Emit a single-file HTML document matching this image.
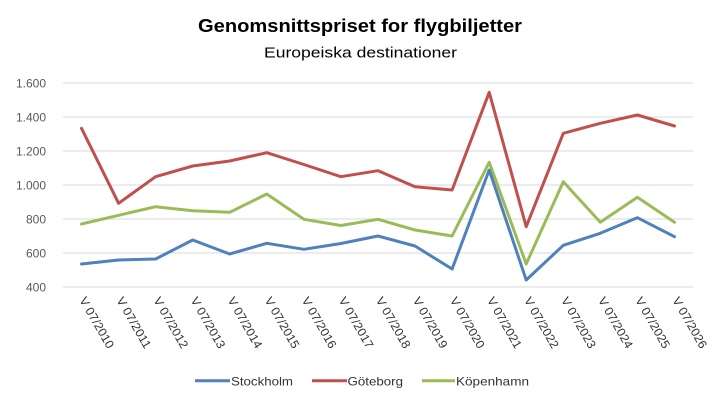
<!DOCTYPE html>
<html>
<head>
<meta charset="utf-8">
<style>
  html,body{margin:0;padding:0;background:#fff;}
  svg{display:block;}
  text{font-family:"Liberation Sans", sans-serif;}
</style>
</head>
<body>
<svg width="720" height="405" viewBox="0 0 720 405" xmlns="http://www.w3.org/2000/svg">
  <rect width="720" height="405" fill="#fff"/>
  <!-- Title -->
  <text x="360" y="32" text-anchor="middle" font-size="18" font-weight="bold" fill="#000" textLength="324" lengthAdjust="spacingAndGlyphs">Genomsnittspriset for flygbiljetter</text>
  <text x="360.5" y="57.3" text-anchor="middle" font-size="15" fill="#000" textLength="193" lengthAdjust="spacingAndGlyphs">Europeiska destinationer</text>

  <!-- Gridlines -->
  <g stroke="#D9D9D9" stroke-width="1">
    <line x1="63" y1="83" x2="693" y2="83"/>
    <line x1="63" y1="117" x2="693" y2="117"/>
    <line x1="63" y1="151" x2="693" y2="151"/>
    <line x1="63" y1="185" x2="693" y2="185"/>
    <line x1="63" y1="219" x2="693" y2="219"/>
    <line x1="63" y1="253" x2="693" y2="253"/>
    <line x1="63" y1="287" x2="693" y2="287"/>
  </g>

  <!-- Y labels -->
  <g font-size="12" fill="#595959" text-anchor="end">
    <text x="46" y="87.3">1.600</text>
    <text x="46" y="121.3">1.400</text>
    <text x="46" y="155.3">1.200</text>
    <text x="46" y="189.3">1.000</text>
    <text x="46" y="223.3">800</text>
    <text x="46" y="257.3">600</text>
    <text x="46" y="291.3">400</text>
  </g>

  <!-- Series -->
  <g fill="none" stroke-width="3" stroke-linejoin="round" stroke-linecap="round">
    <polyline stroke="#C0504D" points="81.5,128.3 118.6,203.3 155.6,176.7 192.7,166 229.7,161 266.8,152.7 303.9,164.5 340.9,176.7 378,170.7 415,186.7 452.1,190 489.2,92.3 526.2,226.7 563.3,133.3 600.3,123.3 637.4,115 674.5,126"/>
    <polyline stroke="#9BBB59" points="81.5,224 118.6,215.3 155.6,206.7 192.7,210.7 229.7,212.3 266.8,194 303.9,219.3 340.9,225.5 378,219.3 415,230 452.1,236 489.2,162.3 526.2,264 563.3,181.7 600.3,222.3 637.4,197.3 674.5,222.3"/>
    <polyline stroke="#4F81BD" points="81.5,264 118.6,260 155.6,259 192.7,240 229.7,254 266.8,243.3 303.9,249.3 340.9,243.5 378,236 415,246 452.1,269 489.2,170 526.2,280 563.3,245.3 600.3,233.3 637.4,217.7 674.5,236.7"/>
  </g>

  <!-- X labels -->
  <g font-size="12" fill="#333">
    <text transform="translate(79,300) rotate(60)" textLength="57" lengthAdjust="spacingAndGlyphs">V 07/2010</text>
    <text transform="translate(116.1,300) rotate(60)" textLength="57" lengthAdjust="spacingAndGlyphs">V 07/2011</text>
    <text transform="translate(153.1,300) rotate(60)" textLength="57" lengthAdjust="spacingAndGlyphs">V 07/2012</text>
    <text transform="translate(190.2,300) rotate(60)" textLength="57" lengthAdjust="spacingAndGlyphs">V 07/2013</text>
    <text transform="translate(227.2,300) rotate(60)" textLength="57" lengthAdjust="spacingAndGlyphs">V 07/2014</text>
    <text transform="translate(264.3,300) rotate(60)" textLength="57" lengthAdjust="spacingAndGlyphs">V 07/2015</text>
    <text transform="translate(301.4,300) rotate(60)" textLength="57" lengthAdjust="spacingAndGlyphs">V 07/2016</text>
    <text transform="translate(338.4,300) rotate(60)" textLength="57" lengthAdjust="spacingAndGlyphs">V 07/2017</text>
    <text transform="translate(375.5,300) rotate(60)" textLength="57" lengthAdjust="spacingAndGlyphs">V 07/2018</text>
    <text transform="translate(412.5,300) rotate(60)" textLength="57" lengthAdjust="spacingAndGlyphs">V 07/2019</text>
    <text transform="translate(449.6,300) rotate(60)" textLength="57" lengthAdjust="spacingAndGlyphs">V 07/2020</text>
    <text transform="translate(486.7,300) rotate(60)" textLength="57" lengthAdjust="spacingAndGlyphs">V 07/2021</text>
    <text transform="translate(523.7,300) rotate(60)" textLength="57" lengthAdjust="spacingAndGlyphs">V 07/2022</text>
    <text transform="translate(560.8,300) rotate(60)" textLength="57" lengthAdjust="spacingAndGlyphs">V 07/2023</text>
    <text transform="translate(597.8,300) rotate(60)" textLength="57" lengthAdjust="spacingAndGlyphs">V 07/2024</text>
    <text transform="translate(634.9,300) rotate(60)" textLength="57" lengthAdjust="spacingAndGlyphs">V 07/2025</text>
    <text transform="translate(672,300) rotate(60)" textLength="57" lengthAdjust="spacingAndGlyphs">V 07/2026</text>
  </g>

  <!-- Legend -->
  <g stroke-width="3">
    <line x1="195" y1="380.7" x2="230" y2="380.7" stroke="#4F81BD"/>
    <line x1="312" y1="380.7" x2="347" y2="380.7" stroke="#C0504D"/>
    <line x1="422" y1="380.7" x2="455" y2="380.7" stroke="#9BBB59"/>
  </g>
  <g font-size="12" fill="#333">
    <text x="231" y="385.5" textLength="62" lengthAdjust="spacingAndGlyphs">Stockholm</text>
    <text x="347.5" y="385.5" textLength="55.5" lengthAdjust="spacingAndGlyphs">Göteborg</text>
    <text x="456" y="385.5" textLength="73" lengthAdjust="spacingAndGlyphs">Köpenhamn</text>
  </g>
</svg>
</body>
</html>
